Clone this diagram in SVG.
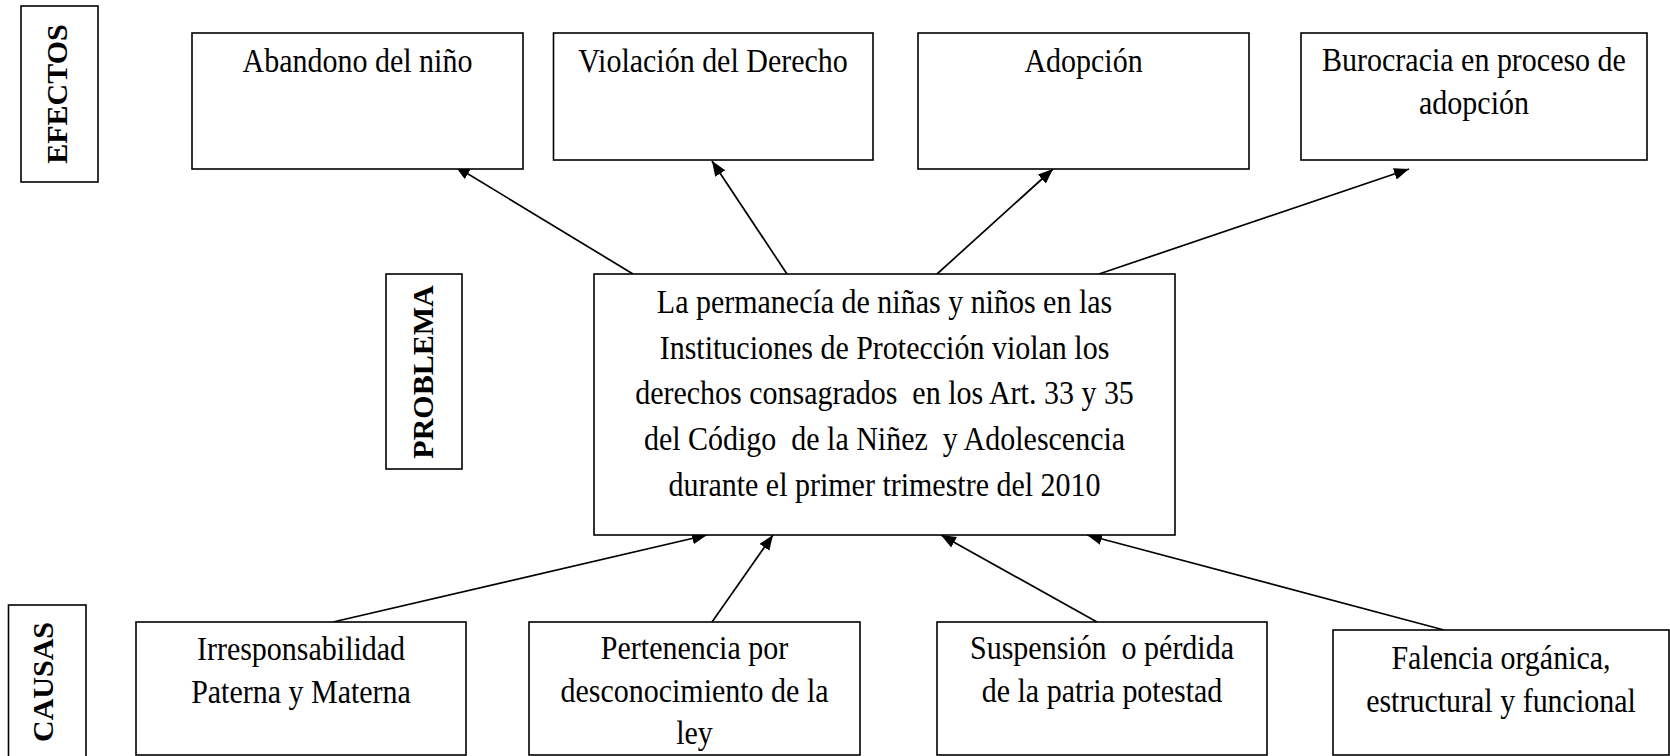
<svg xmlns="http://www.w3.org/2000/svg" width="1670" height="756" viewBox="0 0 1670 756">
<style>
.box{fill:#fff;stroke:#000;stroke-width:1.6}
.t{font-family:"Liberation Serif","Times New Roman",serif;font-size:34px;fill:#000;text-anchor:middle;white-space:pre}
.lbl{font-family:"Liberation Serif","Times New Roman",serif;font-size:30px;font-weight:bold;fill:#000;text-anchor:middle}
.c{stroke:#000;stroke-width:1.7;fill:none;marker-end:url(#ah)}
</style>
<defs>
<marker id="ah" markerUnits="userSpaceOnUse" markerWidth="16" markerHeight="13" refX="15" refY="6" orient="auto">
<path d="M0,0 L15,6 L0,12 z" fill="#000"/>
</marker>
</defs>
<g id="connectors">
<line class="c" x1="633" y1="274" x2="455" y2="166"/>
<line class="c" x1="787" y1="274" x2="712" y2="161"/>
<line class="c" x1="937" y1="274" x2="1053" y2="169"/>
<line class="c" x1="1099" y1="274" x2="1409" y2="169"/>
<line class="c" x1="333" y1="622" x2="707" y2="535"/>
<line class="c" x1="712" y1="622" x2="773" y2="535"/>
<line class="c" x1="1097" y1="622" x2="941" y2="535"/>
<line class="c" x1="1444" y1="630" x2="1087" y2="535"/>
</g>
<g id="efectos">
<rect class="box" x="21" y="6" width="77" height="176"/>
<text class="lbl" transform="translate(67,94) rotate(-90)">EFECTOS</text>
</g>
<g id="problema">
<rect class="box" x="386" y="274" width="76" height="195"/>
<text class="lbl" transform="translate(433,372) rotate(-90)">PROBLEMA</text>
</g>
<g id="causas">
<rect class="box" x="8.5" y="605" width="77.5" height="160"/>
<text class="lbl" transform="translate(53,682) rotate(-90)">CAUSAS</text>
</g>
<g id="abandono">
<rect class="box" x="192" y="33" width="331" height="136"/>
<g transform="translate(357.5,0) scale(0.882,1)">
<text class="t" x="0" y="72">Abandono del niño</text>
</g>
</g>
<g id="violacion">
<rect class="box" x="553.5" y="33" width="319.5" height="127"/>
<g transform="translate(713,0) scale(0.882,1)">
<text class="t" x="0" y="72">Violación del Derecho</text>
</g>
</g>
<g id="adopcion">
<rect class="box" x="918" y="33" width="331" height="136"/>
<g transform="translate(1083.5,0) scale(0.882,1)">
<text class="t" x="0" y="72">Adopción</text>
</g>
</g>
<g id="burocracia">
<rect class="box" x="1301" y="33" width="346" height="127"/>
<g transform="translate(1474,0) scale(0.882,1)">
<text class="t" x="0" y="71">Burocracia en proceso de</text>
<text class="t" x="0" y="114">adopción</text>
</g>
</g>
<g id="problema-central">
<rect class="box" x="594" y="274" width="581" height="261"/>
<g transform="translate(884.5,0) scale(0.882,1)">
<text class="t" x="0" y="313">La permanecía de niñas y niños en las</text>
<text class="t" x="0" y="359">Instituciones de Protección violan los</text>
<text class="t" x="0" y="404" xml:space="preserve">derechos consagrados  en los Art. 33 y 35</text>
<text class="t" x="0" y="450" xml:space="preserve">del Código  de la Niñez  y Adolescencia</text>
<text class="t" x="0" y="496">durante el primer trimestre del 2010</text>
</g>
</g>
<g id="irresponsabilidad">
<rect class="box" x="136" y="622" width="330" height="133"/>
<g transform="translate(301,0) scale(0.882,1)">
<text class="t" x="0" y="660">Irresponsabilidad</text>
<text class="t" x="0" y="703">Paterna y Materna</text>
</g>
</g>
<g id="pertenencia">
<rect class="box" x="529" y="622" width="331" height="133"/>
<g transform="translate(694.5,0) scale(0.882,1)">
<text class="t" x="0" y="659">Pertenencia por</text>
<text class="t" x="0" y="702">desconocimiento de la</text>
<text class="t" x="0" y="744">ley</text>
</g>
</g>
<g id="suspension">
<rect class="box" x="937" y="622" width="330" height="133"/>
<g transform="translate(1102,0) scale(0.882,1)">
<text class="t" x="0" y="659" xml:space="preserve">Suspensión  o pérdida</text>
<text class="t" x="0" y="702">de la patria potestad</text>
</g>
</g>
<g id="falencia">
<rect class="box" x="1333" y="630" width="336" height="125"/>
<g transform="translate(1501,0) scale(0.882,1)">
<text class="t" x="0" y="669">Falencia orgánica,</text>
<text class="t" x="0" y="712">estructural y funcional</text>
</g>
</g>
</svg>
